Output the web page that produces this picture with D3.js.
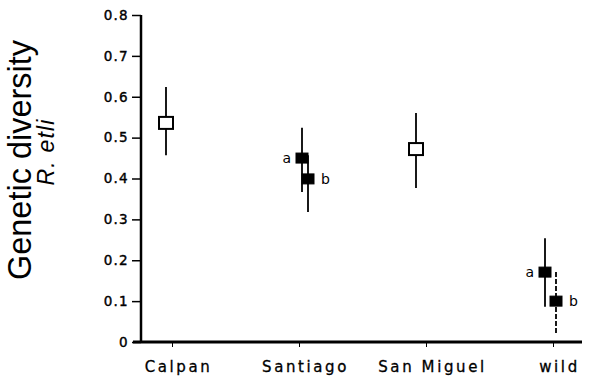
<!DOCTYPE html>
<html>
<head>
<meta charset="utf-8">
<script src="https://cdn.jsdelivr.net/npm/d3@7"></script>
<style>
  body { margin: 0; background: #fff; }
  svg { display: block; }
  .tick text { font-family: "DejaVu Sans", sans-serif; fill: #000; }
</style>
</head>
<body>
<div id="chart"></div>
<script>
// data
const sites = ["Calpan", "Santiago", "San Miguel", "wild"]
const pointSite = ["Calpan", "Santiago", "Santiago", "San Miguel", "wild", "wild"]
const pointTag = ["", "a", "b", "", "a", "b"]
const pointFilled = [false, true, true, false, true, true]
const diversity = [0.536, 0.450, 0.399, 0.472, 0.171, 0.100]
const lowErr = [0.457, 0.367, 0.318, 0.377, 0.086, 0.022]
const highErr = [0.624, 0.524, 0.457, 0.560, 0.254, 0.171]
const yTicks = [0, 0.1, 0.2, 0.3, 0.4, 0.5, 0.6, 0.7, 0.8]

const svgWidth = 591
const svgHeight = 388
// small sideways shift of each marker from its site tick (pixels)
const dodge = [-6, 3, 9, -10, -8, 3]

let svg = d3.select("#chart")
  .append("svg")
  .attr("width", svgWidth)
  .attr("height", svgHeight)

let x = d3.scalePoint()
  .domain(sites)
  .range([172, 553])

let y = d3.scaleLinear()
  .domain([0, 0.8])
  .range([342, 15])

// y axis
let yAxis = svg.append("g")
  .attr("transform", "translate(141,0)")
  .call(d3.axisLeft(y)
    .tickValues(yTicks)
    .tickSize(9)
    .tickPadding(3)
    .tickFormat(d => d === 0 ? "0" : d3.format(".1f")(d)))
yAxis.select(".domain").remove()
yAxis.selectAll(".tick line").attr("stroke-width", 1.5)
yAxis.selectAll(".tick text")
  .style("font-size", "13.5px")
  .style("letter-spacing", "1.3px")
  .attr("stroke", "#000")
  .attr("stroke-width", 0.4)
svg.append("line")
  .attr("x1", 141).attr("x2", 141)
  .attr("y1", y(0.8)).attr("y2", y(0))
  .attr("stroke", "#000")
  .attr("stroke-width", 2.5)

// x axis
let xAxis = svg.append("g")
  .attr("transform", `translate(0,${y(0)})`)
  .call(d3.axisBottom(x).tickSize(5).tickPadding(14).tickSizeOuter(0))
xAxis.select(".domain").remove()
xAxis.selectAll(".tick text")
  .attr("dx", 6)
  .style("font-size", "15px")
  .style("letter-spacing", "2.6px")
  .attr("stroke", "#000")
  .attr("stroke-width", 0.3)
svg.append("line")
  .attr("x1", 133).attr("x2", 582)
  .attr("y1", y(0)).attr("y2", y(0))
  .attr("stroke", "#000")
  .attr("stroke-width", 3)

// axis title
svg.append("text")
  .attr("transform", "translate(31,160) rotate(-90)")
  .attr("text-anchor", "middle")
  .attr("textLength", 240)
  .attr("lengthAdjust", "spacingAndGlyphs")
  .style("font-family", "'Liberation Sans', Arial, sans-serif")
  .style("font-size", "33px")
  .text("Genetic diversity")
svg.append("text")
  .attr("transform", "translate(54,152) rotate(-90)")
  .attr("text-anchor", "middle")
  .style("font-family", "'Liberation Sans', Arial, sans-serif")
  .style("font-style", "italic")
  .style("font-size", "23px")
  .style("letter-spacing", "1.2px")
  .text("R. etli")

let points = diversity.map((v, i) => ({
  site: pointSite[i],
  tag: pointTag[i],
  filled: pointFilled[i],
  value: v,
  lo: lowErr[i],
  hi: highErr[i],
  cx: x(pointSite[i]) + dodge[i]
}))

// error bars
svg.selectAll(".err")
  .data(points)
  .enter()
  .append("line")
  .attr("class", "err")
  .attr("x1", d => d.cx).attr("x2", d => d.cx)
  .attr("y1", d => y(d.hi)).attr("y2", d => y(d.lo))
  .attr("stroke", "#000")
  .attr("stroke-width", 1.8)
  .attr("stroke-dasharray", d => d.tag === "b" && d.site === "wild" ? "5,2" : null)

// markers
svg.selectAll(".mark")
  .data(points)
  .enter()
  .append("rect")
  .attr("class", "mark")
  .attr("x", d => d.cx - (d.filled ? 6 : 7))
  .attr("y", d => y(d.value) - (d.filled ? 5 : 6))
  .attr("width", d => d.filled ? 12 : 14)
  .attr("height", d => d.filled ? 10 : 12)
  .attr("fill", d => d.filled ? "#000" : "#fff")
  .attr("stroke", "#000")
  .attr("stroke-width", d => d.filled ? 1 : 2)

// a / b tags
svg.selectAll(".tag")
  .data(points.filter(d => d.tag))
  .enter()
  .append("text")
  .attr("class", "tag")
  .attr("x", d => d.tag === "a" ? d.cx - 11 : d.cx + 13)
  .attr("y", d => y(d.value) + 5)
  .attr("text-anchor", d => d.tag === "a" ? "end" : "start")
  .style("font-family", "'DejaVu Sans', sans-serif")
  .style("font-size", "14px")
  .text(d => d.tag)
</script>
</body>
</html>
